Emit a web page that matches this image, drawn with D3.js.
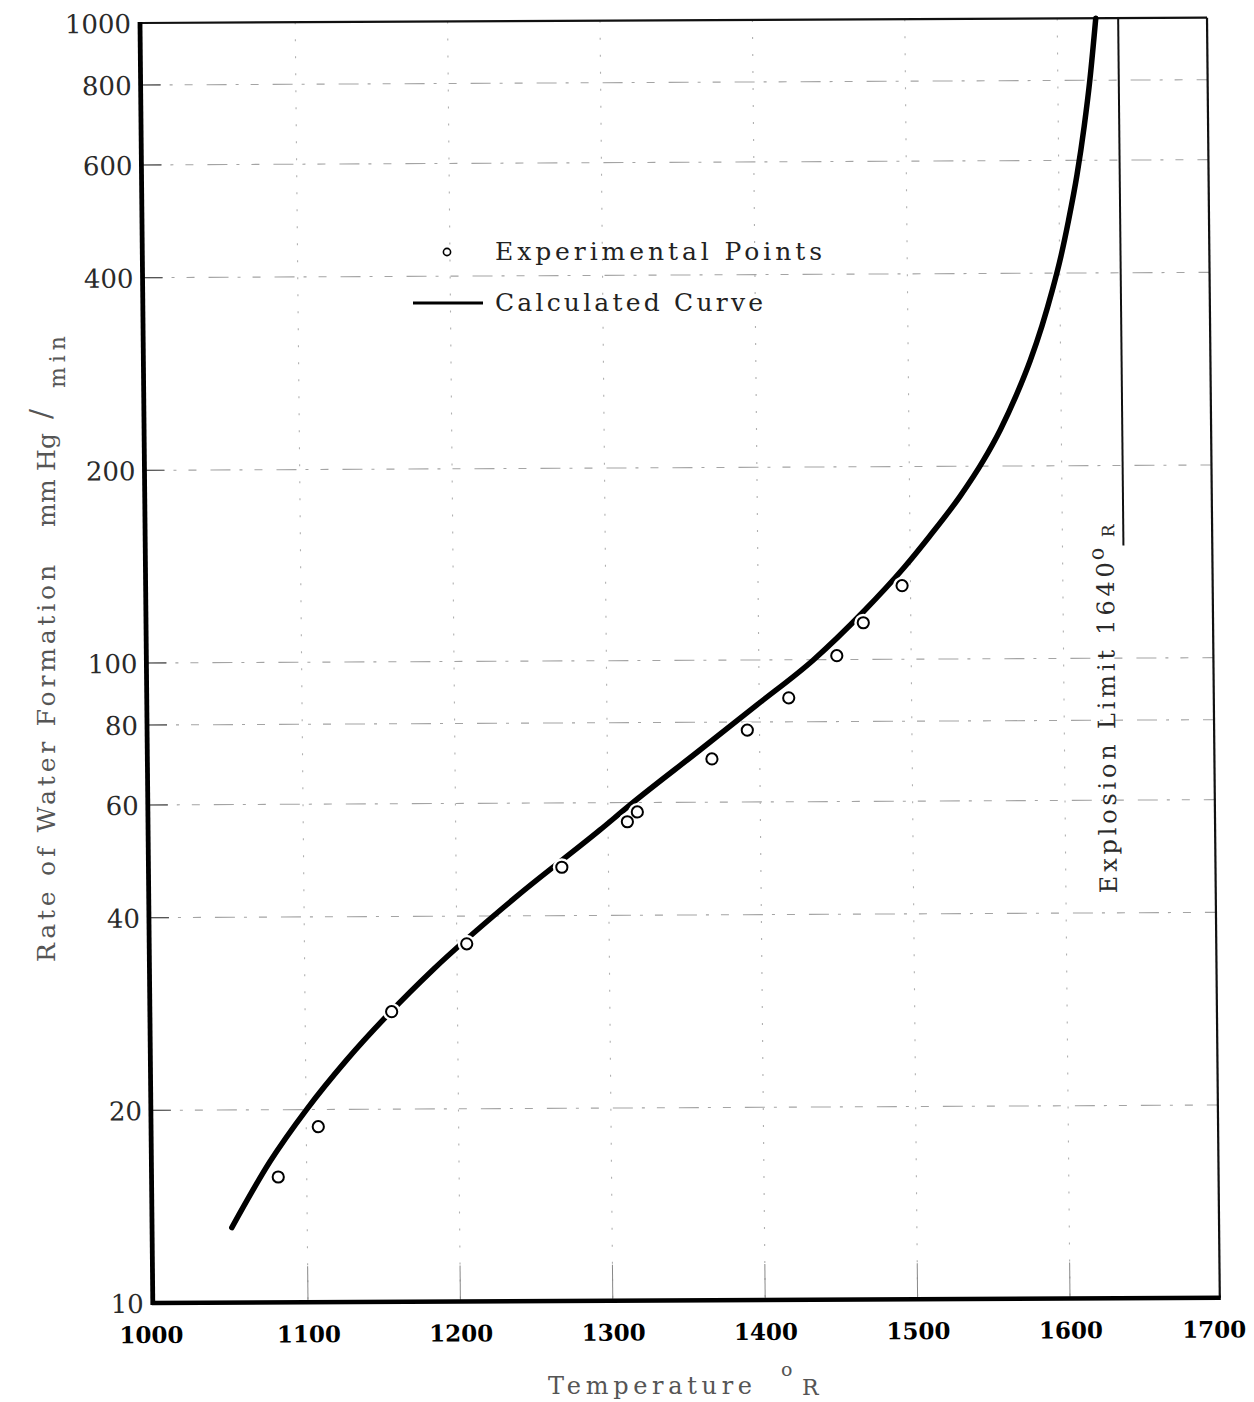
<!DOCTYPE html>
<html>
<head>
<meta charset="utf-8">
<script src="https://cdn.jsdelivr.net/npm/d3@7"></script>
<style>
  html, body { margin: 0; padding: 0; background: #fff; }
  svg { display: block; }
</style>
</head>
<body>
<svg id="chart" width="1254" height="1402"></svg>
<script>
// Experimental rate measurements (temperature in degrees Rankine, rate in mm Hg/min)
const expTemps = [1081.3, 1107.9, 1156.8, 1206.5, 1269.4, 1312.7, 1319.3, 1368.6, 1392.0, 1419.4, 1451.2, 1468.8, 1494.5];
const expRates = [15.7, 18.8, 28.4, 36.2, 47.6, 56.0, 58.0, 70.1, 77.7, 87.2, 101.4, 114.1, 130.3];

// Calculated rate curve
const curveTemps = [1050.5, 1076.0, 1100.3, 1127.0, 1155.0, 1184.2, 1239.6, 1294.7, 1314.6, 1360.8, 1398.3, 1435.8, 1468.9, 1495.5, 1512.9, 1533.1, 1548.6, 1560.0, 1571.0, 1580.0, 1588.0, 1595.0, 1601.0, 1606.0, 1612.0, 1617.0, 1621.0, 1625.3];
const curveRates = [13.1, 16.6, 20.0, 23.9, 28.2, 33.0, 42.9, 54.4, 59.5, 72.4, 85.0, 99.9, 118.7, 138.7, 155.6, 179.5, 204, 228, 259, 292, 331, 376, 426, 482, 570, 678, 800, 1000];

// Axis ticks
const xTicks = [1000, 1100, 1200, 1300, 1400, 1500, 1600, 1700];
const yTicks = [10, 20, 40, 60, 80, 100, 200, 400, 600, 800, 1000];

// Explosion limit marker
const explosionLimit = 1640;
const limitLineEndRate = 150;

const serif = "'DejaVu Serif', 'Liberation Serif', serif";

const svg = d3.select("#chart");
svg.append("rect").attr("width", 1254).attr("height", 1402).attr("fill", "#fff");

const W = 1067, H = 1280;
// plotting area, slightly sheared like the printed graph sheet
const plot = svg.append("g").attr("transform", "matrix(1,-0.005,0.01,1,140,23)");

const x = d3.scaleLinear().domain([1000, 1700]).range([2.8, 1069.6]);
const y = d3.scaleLog().domain([10, 1000]).range([H, 0]);

// horizontal grid
plot.append("g")
  .selectAll("line")
  .data(yTicks.filter(d => d > 10 && d < 1000))
  .join("line")
  .attr("x1", 0).attr("x2", W)
  .attr("y1", d => y(d)).attr("y2", d => y(d))
  .attr("stroke", "#a4a4a4")
  .attr("stroke-width", 1.1)
  .attr("stroke-dasharray", "20 9 3 12 8 14");

// short ticks on the rate axis
plot.append("g")
  .selectAll("line")
  .data(yTicks.filter(d => d > 10 && d < 1000))
  .join("line")
  .attr("x1", 0).attr("x2", 20)
  .attr("y1", d => y(d)).attr("y2", d => y(d))
  .attr("stroke", "#555")
  .attr("stroke-width", 1.2);

// vertical grid
plot.append("g")
  .selectAll("line")
  .data(xTicks.filter(d => d > 1000 && d < 1700))
  .join("line")
  .attr("x1", d => x(d)).attr("x2", d => x(d))
  .attr("y1", 0).attr("y2", H)
  .attr("stroke", "#b0b0b0")
  .attr("stroke-width", 1.1)
  .attr("stroke-dasharray", "2 15");

plot.append("g")
  .selectAll("line")
  .data(xTicks.filter(d => d > 1000 && d < 1700))
  .join("line")
  .attr("x1", d => x(d)).attr("x2", d => x(d))
  .attr("y1", H - 36).attr("y2", H)
  .attr("stroke", "#888")
  .attr("stroke-width", 1);

// frame
plot.append("line").attr("x1", 0).attr("x2", W).attr("y1", 0).attr("y2", 0)
  .attr("stroke", "#111").attr("stroke-width", 2.2);
plot.append("line").attr("x1", W).attr("x2", W).attr("y1", 0).attr("y2", H)
  .attr("stroke", "#111").attr("stroke-width", 2.2);
plot.append("line").attr("x1", -1).attr("x2", W + 1).attr("y1", H).attr("y2", H)
  .attr("stroke", "#000").attr("stroke-width", 4.5);
plot.append("line").attr("x1", 0).attr("x2", 0).attr("y1", -1).attr("y2", H + 2)
  .attr("stroke", "#000").attr("stroke-width", 4.8);

// rate axis labels
const yAxis = plot.append("g")
  .call(d3.axisLeft(y).tickValues(yTicks).tickFormat(d3.format("d")).tickSize(0).tickPadding(9));
yAxis.select(".domain").remove();
yAxis.attr("font-family", serif).attr("font-size", 26);
yAxis.selectAll("text").attr("fill", "#2a2a2a").attr("dy", "0.36em");

// temperature axis labels
const xAxis = plot.append("g")
  .attr("transform", `translate(0,${H})`)
  .call(d3.axisBottom(x).tickValues(xTicks).tickFormat(d3.format("d")).tickSize(0));
xAxis.select(".domain").remove();
xAxis.attr("font-family", serif).attr("font-size", 23).attr("font-weight", "bold");
xAxis.selectAll("text")
  .attr("fill", "#000").attr("y", 40).attr("dy", 0)
  .attr("dx", d => d === 1000 ? -5 : d === 1700 ? -9 : 0);

// explosion limit line and label
plot.append("line")
  .attr("x1", x(explosionLimit)).attr("x2", x(explosionLimit))
  .attr("y1", 0).attr("y2", y(limitLineEndRate))
  .attr("stroke", "#111").attr("stroke-width", 2);

const lbl = plot.append("text")
  .attr("transform", `translate(${x(explosionLimit) - 10},875) rotate(-90)`)
  .attr("font-family", serif)
  .attr("font-size", 24)
  .attr("fill", "#2a2a2a");
lbl.append("tspan").attr("x", 0).attr("textLength", 331).attr("lengthAdjust", "spacing").text("Explosion Limit 1640");
lbl.append("tspan").attr("x", 333).attr("dy", -10).attr("font-size", 21).text("o");
lbl.append("tspan").attr("x", 356).attr("dy", 11).attr("font-size", 17).text("R");

// calculated curve
const line = d3.line()
  .x(d => x(d[0]))
  .y(d => y(d[1]))
  .curve(d3.curveMonotoneX);
plot.append("path")
  .datum(d3.zip(curveTemps, curveRates))
  .attr("d", line)
  .attr("fill", "none")
  .attr("stroke", "#000")
  .attr("stroke-width", 5.5)
  .attr("stroke-linecap", "round")
  .attr("stroke-linejoin", "round");

// experimental points (white halo opens the curve around each circle)
const pts = d3.zip(expTemps, expRates);
plot.append("g").selectAll("circle")
  .data(pts).join("circle")
  .attr("cx", d => x(d[0])).attr("cy", d => y(d[1]))
  .attr("r", 9).attr("fill", "#fff");
plot.append("g").selectAll("circle")
  .data(pts).join("circle")
  .attr("cx", d => x(d[0])).attr("cy", d => y(d[1]))
  .attr("r", 5.6).attr("fill", "#fff")
  .attr("stroke", "#000").attr("stroke-width", 2);

// legend
const legend = svg.append("g");
legend.append("circle").attr("cx", 447).attr("cy", 252).attr("r", 3.6)
  .attr("fill", "#fff").attr("stroke", "#000").attr("stroke-width", 1.6);
legend.append("text").attr("x", 495).attr("y", 260)
  .attr("font-family", serif).attr("font-size", 25).attr("fill", "#222")
  .attr("textLength", 327).attr("lengthAdjust", "spacing")
  .text("Experimental Points");
legend.append("line").attr("x1", 413).attr("x2", 483).attr("y1", 303).attr("y2", 303)
  .attr("stroke", "#000").attr("stroke-width", 3);
legend.append("text").attr("x", 495).attr("y", 311)
  .attr("font-family", serif).attr("font-size", 25).attr("fill", "#222")
  .attr("textLength", 268).attr("lengthAdjust", "spacing")
  .text("Calculated Curve");

// axis titles
const xt = svg.append("text").attr("x", 548).attr("y", 1394)
  .attr("font-family", serif).attr("font-size", 24).attr("fill", "#555");
xt.append("tspan").attr("textLength", 204).attr("lengthAdjust", "spacing").text("Temperature");
xt.append("tspan").attr("x", 781).attr("dy", -18).attr("font-size", 19).text("o");
xt.append("tspan").attr("x", 802).attr("dy", 19).attr("font-size", 22).text("R");

const yt = svg.append("text")
  .attr("transform", "translate(55,962) rotate(-90)")
  .attr("font-family", serif).attr("font-size", 25).attr("fill", "#555");
yt.append("tspan").attr("x", 0).attr("textLength", 397).attr("lengthAdjust", "spacing").text("Rate of Water Formation");
yt.append("tspan").attr("x", 435).attr("textLength", 94).attr("lengthAdjust", "spacing").text("mm Hg");
yt.append("tspan").attr("x", 543).attr("dy", -4).attr("font-size", 30).text("/");
yt.append("tspan").attr("x", 574).attr("dy", 14).attr("font-size", 22).attr("textLength", 52).attr("lengthAdjust", "spacing").text("min");
</script>
</body>
</html>
